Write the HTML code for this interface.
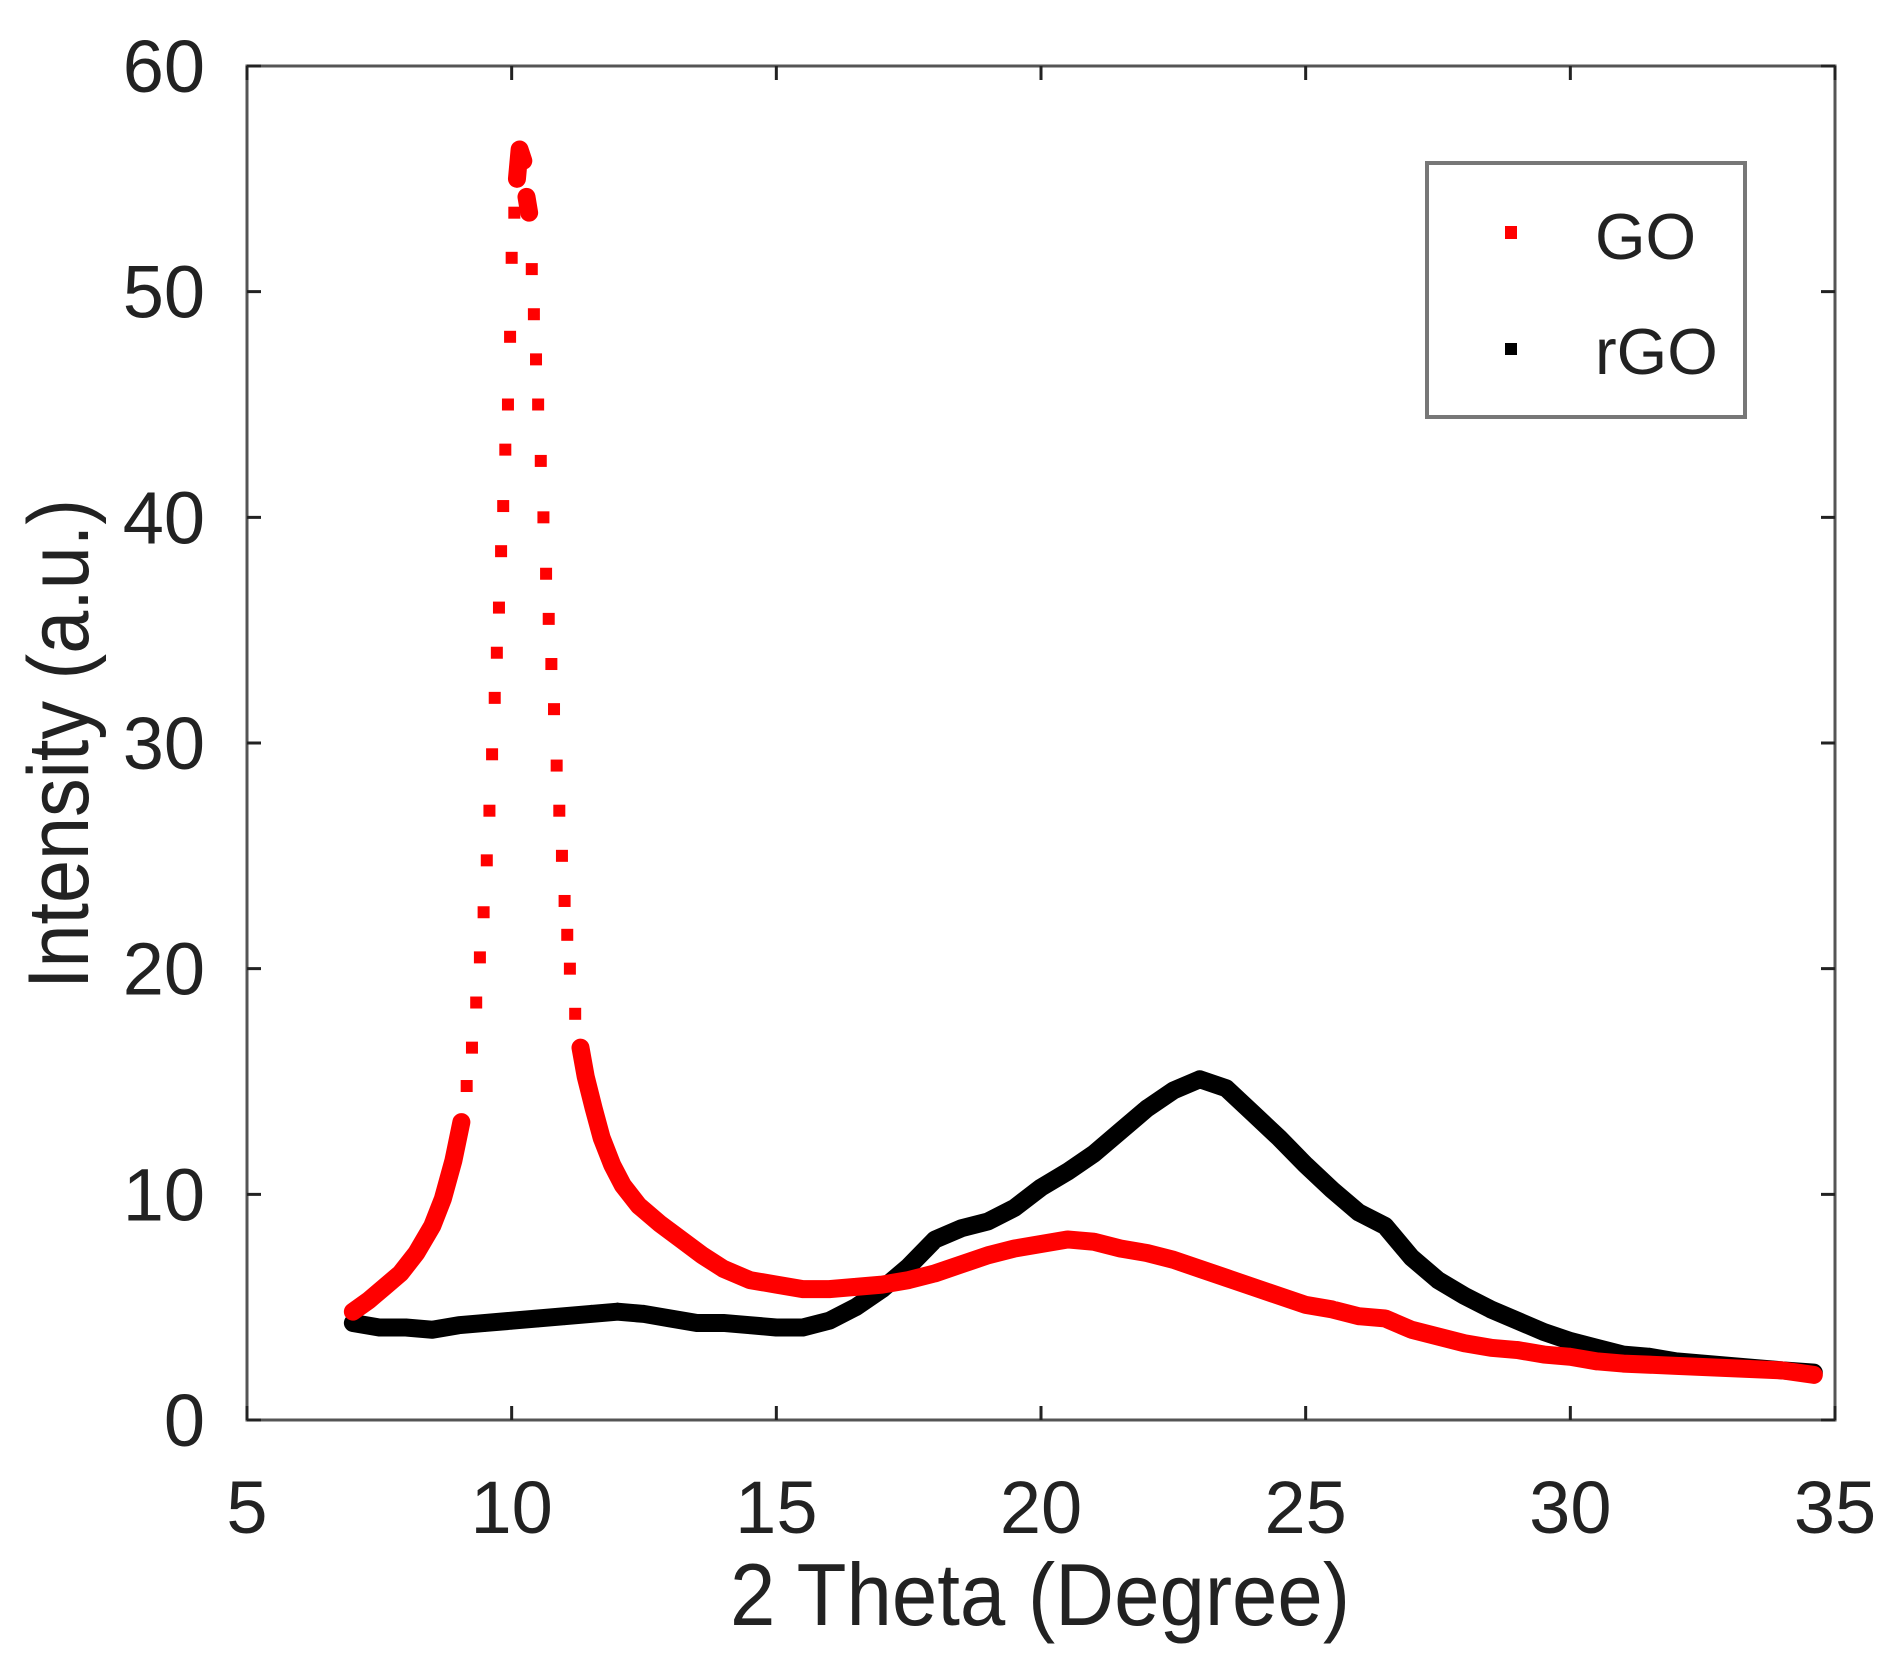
<!DOCTYPE html>
<html><head><meta charset="utf-8"><style>
html,body{margin:0;padding:0;background:#fff;}
svg{display:block;}
text{font-family:"Liberation Sans",sans-serif;fill:#222;}
</style></head><body>
<svg id="chart" width="1904" height="1659" viewBox="0 0 1904 1659" xmlns="http://www.w3.org/2000/svg">
<g id="axes"></g>
<g id="series"></g>
<g id="legend">
<rect x="1427" y="163" width="318" height="254" fill="#fff" stroke="#777" stroke-width="4"/>
<rect x="1505" y="226" width="12" height="13" fill="#f00"/>
<text x="1595" y="259" font-size="65">GO</text>
<rect x="1505" y="343" width="12" height="12" fill="#000"/>
<text x="1595" y="374" font-size="65">rGO</text>
</g>
<text x="1040" y="1625" font-size="88" text-anchor="middle" textLength="620" lengthAdjust="spacingAndGlyphs">2 Theta (Degree)</text>
<text transform="translate(88,744) rotate(-90)" font-size="86" text-anchor="middle" textLength="490" lengthAdjust="spacingAndGlyphs">Intensity (a.u.)</text>
</svg>
<script>
const xTicks=[5,10,15,20,25,30,35];
const yTicks=[0,10,20,30,40,50,60];
const goX=[7.0,7.3,7.6,7.9,8.2,8.5,8.7,8.9,9.05,9.15,9.25,9.33,9.4,9.47,9.53,9.58,9.63,9.68,9.72,9.76,9.8,9.84,9.88,9.93,9.97,10.0,10.05,10.1,10.15,10.22,10.28,10.33,10.38,10.42,10.46,10.5,10.55,10.6,10.65,10.7,10.75,10.8,10.85,10.9,10.95,11.0,11.05,11.1,11.2,11.3,11.4,11.55,11.7,11.9,12.1,12.4,12.8,13.2,13.6,14,14.5,15,15.5,16,16.5,17,17.5,18,18.5,19,19.5,20,20.5,21,21.5,22,22.5,23,23.5,24,24.5,25,25.5,26,26.5,27,27.5,28,28.5,29,29.5,30,30.5,31,32,33,34,34.6];
const goY=[4.8,5.3,5.9,6.5,7.4,8.6,9.8,11.5,13.2,14.8,16.5,18.5,20.5,22.5,24.8,27,29.5,32,34,36,38.5,40.5,43,45,48,51.5,53.5,55,56.3,55.8,54.2,53.5,51,49,47,45,42.5,40,37.5,35.5,33.5,31.5,29,27,25,23,21.5,20,18,16.5,15.2,13.8,12.5,11.3,10.4,9.5,8.7,8,7.3,6.7,6.2,6,5.8,5.8,5.9,6,6.2,6.5,6.9,7.3,7.6,7.8,8,7.9,7.6,7.4,7.1,6.7,6.3,5.9,5.5,5.1,4.9,4.6,4.5,4.0,3.7,3.4,3.2,3.1,2.9,2.8,2.6,2.5,2.4,2.3,2.2,2.0];
const rgoX=[7.0,7.5,8,8.5,9,9.5,10,10.5,11,11.5,12,12.5,13,13.5,14,14.5,15,15.5,16,16.5,17,17.5,18,18.5,19,19.5,20,20.5,21,21.5,22,22.5,23,23.5,24,24.5,25,25.5,26,26.5,27,27.5,28,28.5,29,29.5,30,30.5,31,31.5,32,32.5,33,33.5,34,34.6];
const rgoY=[4.3,4.1,4.1,4.0,4.2,4.3,4.4,4.5,4.6,4.7,4.8,4.7,4.5,4.3,4.3,4.2,4.1,4.1,4.4,5.0,5.8,6.8,8.0,8.5,8.8,9.4,10.3,11.0,11.8,12.8,13.8,14.6,15.1,14.7,13.6,12.5,11.3,10.2,9.2,8.6,7.2,6.2,5.5,4.9,4.4,3.9,3.5,3.2,2.9,2.8,2.6,2.5,2.4,2.3,2.2,2.1];
const NS='http://www.w3.org/2000/svg';
const L=247,R=1835,T=66,B=1420;
const xs=v=>L+(v-5)/30*(R-L);
const ys=v=>B-v/60*(B-T);
function mk(tag,attrs,parent){const e=document.createElementNS(NS,tag);for(const k in attrs)e.setAttribute(k,attrs[k]);parent.appendChild(e);return e;}
const axes=document.getElementById('axes');
const frame=mk('rect',{x:L,y:T,width:R-L,height:B-T,fill:'none',stroke:'#555','stroke-width':3},axes);


xTicks.forEach(t=>{
  const x=xs(t);
  const a=mk('path',{d:`M${x},${B}V${B-14}M${x},${T}V${T+14}`,stroke:'#222','stroke-width':3},axes);
  
  
  const lb=mk('text',{x:x,y:1533,'font-size':74,'text-anchor':'middle'},axes);
  lb.textContent=t;
  
  
});
yTicks.forEach(t=>{
  const y=ys(t);
  const a=mk('path',{d:`M${L},${y}H${L+14}M${R},${y}H${R-14}`,stroke:'#222','stroke-width':3},axes);
  
  
  const lb=mk('text',{x:205,y:y+26,'font-size':74,'text-anchor':'end'},axes);
  lb.textContent=t;
  
  
});
const series=document.getElementById('series');
function draw(X,Y,color,name){
  const g=mk('g',{},series);
  
  
  let d='';
  for(let i=1;i<X.length;i++){
    const px=xs(X[i]),py=ys(Y[i]),qx=xs(X[i-1]),qy=ys(Y[i-1]);
    if(Math.abs(py-qy)<30 || (X[i]-X[i-1])>=0.12) d+=`M${qx},${qy}L${px},${py}`;
  }
  mk('path',{d:d,stroke:color,'stroke-width':18,fill:'none','stroke-linecap':'round'},g);
  for(let i=0;i<X.length;i++){
    const r=mk('rect',{x:xs(X[i])-6,y:ys(Y[i])-6,width:12,height:12,fill:color},g);
    
    
  }
}
draw(rgoX,rgoY,'#000','rgo-series');
draw(goX,goY,'#f00','go-series');
</script>
</body></html>
